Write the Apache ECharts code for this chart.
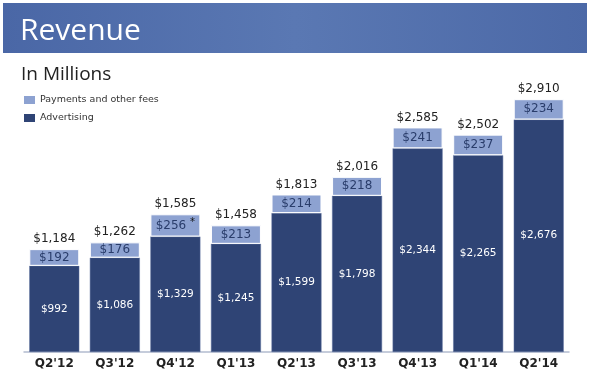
<!DOCTYPE html>
<html>
<head>
<meta charset="utf-8">
<script src="https://cdn.jsdelivr.net/npm/echarts@6/dist/echarts.min.js"></script>
<style>
html,body{margin:0;padding:0;background:#fff;}
#chart{width:590px;height:389px;}
</style>
</head>
<body>
<div id="chart"></div>
<script>
var quarters = ["Q2'12", "Q3'12", "Q4'12", "Q1'13", "Q2'13", "Q3'13", "Q4'13", "Q1'14", "Q2'14"];
var advertising = [992, 1086, 1329, 1245, 1599, 1798, 2344, 2265, 2676];
var payments = [192, 176, 256, 213, 214, 218, 241, 237, 234];
var totals = [1184, 1262, 1585, 1458, 1813, 2016, 2585, 2502, 2910];
var notes = ['', '', '*', '', '', '', '', '', ''];

function money(v) {
    return '$' + String(v).replace(/\B(?=(\d{3})+(?!\d))/g, ',');
}

var myChart = echarts.init(document.getElementById('chart'));
var font = 'DejaVu Sans';

myChart.setOption({
    animation: false,
    backgroundColor: '#fff',
    graphic: [
        {
            type: 'rect',
            shape: {x: 3, y: 3, width: 584, height: 50},
            style: {
                fill: new echarts.graphic.LinearGradient(0, 0, 1, 0, [
                    {offset: 0, color: '#4a67a6'},
                    {offset: 0.5, color: '#5a78b3'},
                    {offset: 1, color: '#4c69a7'}
                ])
            }
        },
        {
            type: 'text',
            left: 20, top: 16,
            style: {text: 'Revenue', fill: '#fff', font: '30px "Open Sans"'}
        },
        {
            type: 'text',
            left: 21, top: 65,
            style: {text: 'In Millions', fill: '#222', font: '19px "Open Sans"'}
        }
    ],
    legend: {
        orient: 'vertical',
        left: 19,
        top: 90,
        itemWidth: 11,
        itemHeight: 8,
        itemGap: 8,
        icon: 'rect',
        itemStyle: {borderWidth: 0},
        data: ['Payments and other fees', 'Advertising'],
        textStyle: {fontFamily: font, fontSize: 9.5, color: '#333'}
    },
    grid: {left: 24, right: 21, top: 74, bottom: 37},
    xAxis: {
        type: 'category',
        data: quarters,
        axisLine: {lineStyle: {color: '#b3bccf', width: 1.5}},
        axisTick: {show: false},
        axisLabel: {fontFamily: font, fontWeight: 'bold', fontSize: 12, color: '#222', margin: 6}
    },
    yAxis: {
        type: 'value',
        min: 0,
        max: 3200,
        show: false
    },
    series: [
        {
            name: 'Advertising',
            type: 'bar',
            stack: 'rev',
            barCategoryGap: '17.5%',
            data: advertising,
            itemStyle: {color: '#2f4475', borderColor: '#5b6f9c', borderWidth: 0.5},
            label: {
                show: true,
                position: 'inside',
                color: '#fff',
                fontFamily: font,
                fontSize: 10.5,
                formatter: function (p) { return money(p.value); }
            }
        },
        {
            name: 'Payments and other fees',
            type: 'bar',
            stack: 'rev',
            data: payments,
            itemStyle: {color: '#8da2d1', borderColor: '#fff', borderWidth: 1},
            label: {
                show: true,
                position: 'inside',
                color: '#2a3d6b',
                fontFamily: font,
                fontSize: 12,
                formatter: function (p) {
                    var n = notes[p.dataIndex];
                    return money(p.value) + (n ? ' {s|' + n + '}' : '');
                },
                rich: {s: {fontSize: 10, color: '#111', verticalAlign: 'top', padding: [0, 0, 6, 0]}}
            }
        },
        {
            name: 'Total',
            type: 'bar',
            barGap: '-100%',
            data: totals,
            z: -1,
            itemStyle: {color: 'rgba(0,0,0,0)'},
            label: {
                show: true,
                position: 'top',
                distance: 4,
                color: '#222',
                fontFamily: font,
                fontSize: 12,
                formatter: function (p) { return money(p.value); }
            }
        }
    ]
});
</script>
</body>
</html>
